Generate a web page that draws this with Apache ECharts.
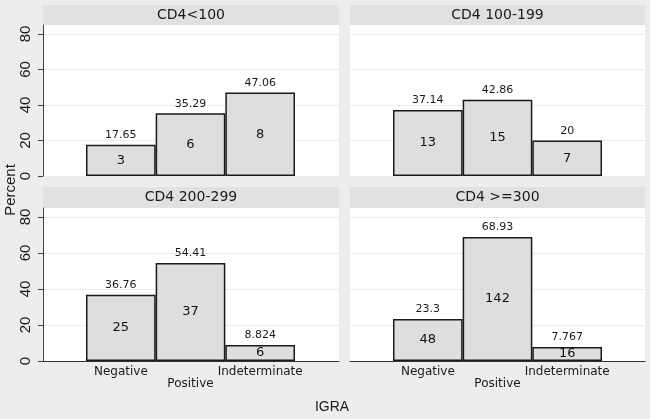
<!DOCTYPE html>
<html>
<head>
<meta charset="utf-8">
<script src="https://cdn.jsdelivr.net/npm/echarts@6/dist/echarts.min.js"></script>
<style>html,body{margin:0;padding:0;background:#ededed}#c{width:650px;height:419px}</style>
</head>
<body>
<div id="c"></div>
<script>
// ---- data ----
const categories = ['Negative', 'Positive', 'Indeterminate'];
const panelTitles = ['CD4<100', 'CD4 100-199', 'CD4 200-299', 'CD4 >=300'];
const pctCD4lt100 = [17.65, 35.29, 47.06];
const cntCD4lt100 = [3, 6, 8];
const pctCD4_100_199 = [37.14, 42.86, 20];
const cntCD4_100_199 = [13, 15, 7];
const pctCD4_200_299 = [36.76, 54.41, 8.824];
const cntCD4_200_299 = [25, 37, 6];
const pctCD4ge300 = [23.3, 68.93, 7.767];
const cntCD4ge300 = [48, 142, 16];
const yTicks = [0, 20, 40, 60, 80];
const yMax = 85;

const pctSets = [pctCD4lt100, pctCD4_100_199, pctCD4_200_299, pctCD4ge300];
const cntSets = [cntCD4lt100, cntCD4_100_199, cntCD4_200_299, cntCD4ge300];

// ---- layout ----
const cols = [{x: 43, w: 296}, {x: 350, w: 295}];
const rows = [{hTop: 5, hH: 20, top: 25, h: 151}, {hTop: 187, hH: 21, top: 208, h: 153}];
const barInset = 43, barSpan = 209;
const FONT = 'DejaVu Sans';

const grid = [], xAxis = [], yAxis = [], series = [], graphic = [];
for (let i = 0; i < 4; i++) {
  const c = cols[i % 2], r = rows[Math.floor(i / 2)];
  const isLeft = i % 2 === 0, isBottom = i >= 2;
  // background grid
  grid.push({left: c.x, top: r.top, width: c.w, height: r.h, show: true, backgroundColor: '#ffffff', borderWidth: 0});
  // bar grid
  grid.push({left: c.x + barInset, top: r.top, width: barSpan, height: r.h, show: false});
  const g0 = 2 * i, g1 = 2 * i + 1;
  xAxis.push({type: 'value', gridIndex: g0, min: 0, max: 1, axisLabel: {show: false}, axisTick: {show: false}, splitLine: {show: false},
    axisLine: {show: isBottom, lineStyle: {color: '#333', width: 1}}});
  xAxis.push({type: 'category', gridIndex: g1, data: categories, axisLine: {show: false}, axisTick: {show: false},
    axisLabel: {show: isBottom, interval: 0, margin: 5, fontFamily: FONT, fontSize: 12, lineHeight: 12, color: '#1a1a1a',
      formatter: (v, idx) => (idx % 2 === 1 ? '\n' + v : v)}});
  yAxis.push({type: 'value', gridIndex: g0, min: 0, max: yMax, interval: 20,
    axisLine: {show: isLeft, lineStyle: {color: '#444', width: 1}},
    axisTick: {show: isLeft, length: 5, customValues: yTicks, lineStyle: {color: '#444'}},
    axisLabel: {show: isLeft, customValues: yTicks, rotate: 90, margin: 10, fontFamily: 'Liberation Sans', fontSize: 15, color: '#1a1a1a'},
    splitLine: {show: true, lineStyle: {color: '#ebebeb', width: 1}}});
  yAxis.push({type: 'value', gridIndex: g1, min: 0, max: yMax, show: false, splitLine: {show: false}});
  const cnt = cntSets[i];
  series.push({type: 'bar', xAxisIndex: 2 * i + 1, yAxisIndex: 2 * i + 1, data: pctSets[i], barWidth: '100%', barGap: '-100%', barCategoryGap: '0%',
    itemStyle: {color: '#dedede', borderColor: '#1a1a1a', borderWidth: 1.5},
    label: {show: true, position: 'inside', fontFamily: FONT, fontSize: 13, color: '#111', formatter: p => String(cnt[p.dataIndex])}});
  series.push({type: 'bar', xAxisIndex: 2 * i + 1, yAxisIndex: 2 * i + 1, data: pctSets[i], barWidth: '100%', barGap: '-100%', barCategoryGap: '0%',
    itemStyle: {color: 'rgba(0,0,0,0)', borderWidth: 0},
    label: {show: true, position: 'top', distance: 4, fontFamily: FONT, fontSize: 11, color: '#1a1a1a', formatter: p => String(p.value)}});
  graphic.push({type: 'rect', left: c.x, top: r.hTop, shape: {width: c.w, height: r.hH}, style: {fill: '#e1e1e1'}, silent: true});
  graphic.push({type: 'text', x: c.x + c.w / 2, y: r.hTop + r.hH / 2, style: {text: panelTitles[i], fontFamily: FONT, fontSize: 14, fill: '#1a1a1a', align: 'center', verticalAlign: 'middle'}});
}
graphic.push({type: 'text', x: 11, y: 190, rotation: Math.PI / 2, style: {text: 'Percent', fontFamily: 'Liberation Sans', fontSize: 15, fill: '#1a1a1a', align: 'center', verticalAlign: 'middle'}});
graphic.push({type: 'text', x: 332, y: 407, style: {text: 'IGRA', fontFamily: 'Liberation Sans', fontSize: 14, fill: '#1a1a1a', align: 'center', verticalAlign: 'middle'}});

const chart = echarts.init(document.getElementById('c'), null, {renderer: 'canvas'});
chart.setOption({backgroundColor: '#ededed', animation: false, grid, xAxis, yAxis, series, graphic});
</script>
</body>
</html>
